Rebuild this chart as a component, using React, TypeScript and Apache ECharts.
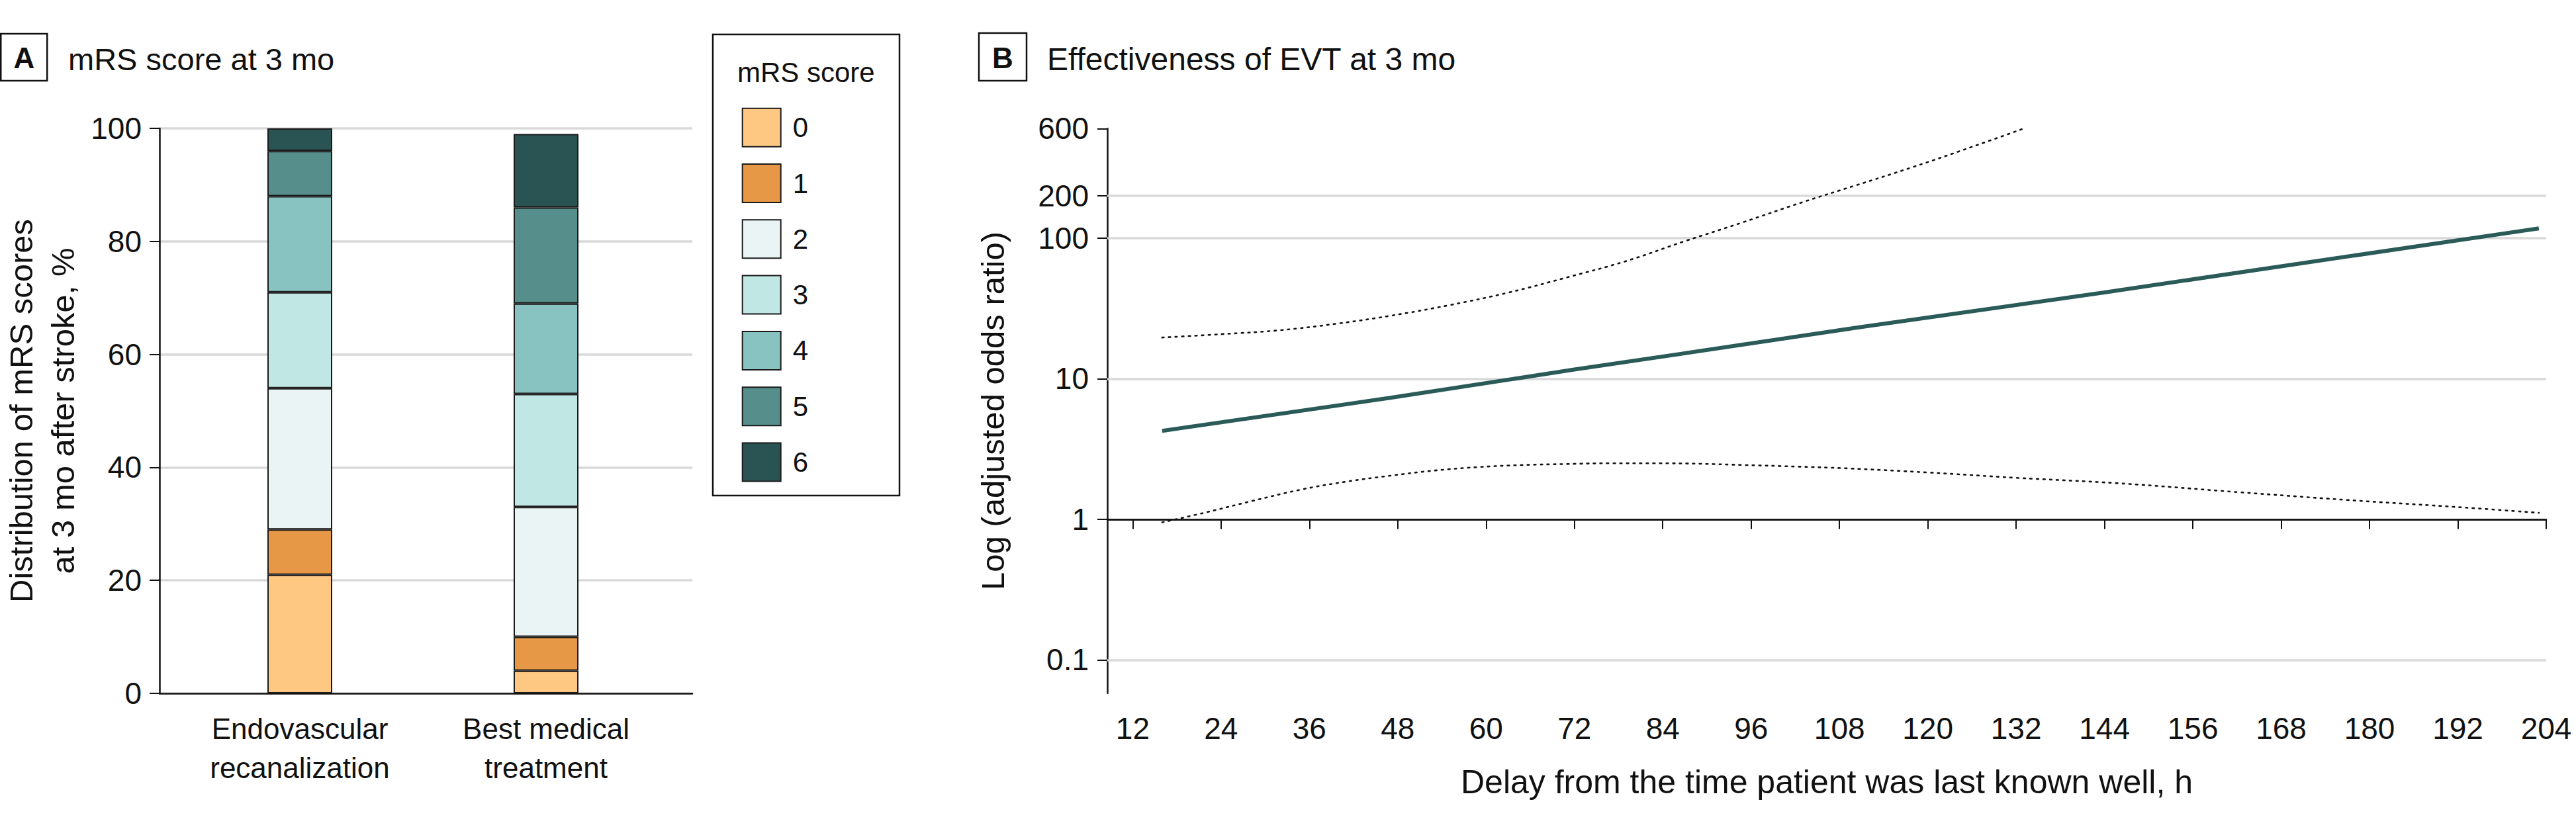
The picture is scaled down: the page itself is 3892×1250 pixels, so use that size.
import React, { useEffect, useRef } from "react";
import * as echarts from "echarts";

const FONT = '"Liberation Sans", Arial, sans-serif';
const INK = "#111111";

// ---------- Panel A data ----------
const categories = ["Endovascular\nrecanalization", "Best medical\ntreatment"];
const mrsScores = ["0", "1", "2", "3", "4", "5", "6"];
const evtDistribution = [21, 8, 25, 17, 17, 8, 4];
const bmtDistribution = [4, 6, 23, 20, 16, 17, 13];
const mrsColors = ["#FEC883", "#E79846", "#EAF4F4", "#C1E7E5", "#88C3C1", "#568E8B", "#2A5453"];

// ---------- Panel B data ----------
const delayTicks = [12, 24, 36, 48, 60, 72, 84, 96, 108, 120, 132, 144, 156, 168, 180, 192, 204];
const orTicks = [0.1, 1, 10, 100, 200, 600];
const orTickLabels = ["0.1", "1", "10", "100", "200", "600"];

const mainHours = [16, 47, 72, 96, 110, 144, 168, 203];
const mainOR = [4.25, 7.3, 11.6, 17.8, 22.9, 41, 63, 117];

const upperHours = [16, 24, 32, 40, 47, 55, 63, 71, 79, 87, 95, 103, 110, 118, 126, 133];
const upperOR = [19.6, 20.7, 22.1, 24.7, 28, 33.3, 40.9, 52.5, 68.5, 95, 130, 180, 235, 320, 445, 600];

const lowerHours = [16, 22, 28, 35, 41, 47, 53, 59, 65, 71, 77, 83, 89, 95, 102, 109, 120, 132, 146, 162, 177, 193, 203];
const lowerOR = [0.95, 1.12, 1.34, 1.63, 1.85, 2.04, 2.22, 2.35, 2.43, 2.47, 2.5, 2.5, 2.48, 2.43, 2.37, 2.3, 2.15, 1.97, 1.8, 1.56, 1.37, 1.21, 1.11];

const toLogPairs = (xs: number[], ys: number[]) => xs.map((x, i) => [x, Math.log10(ys[i])]);

export default function App() {
  const ref = useRef<HTMLDivElement>(null);

  useEffect(() => {
    if (!ref.current) return;
    const chart = echarts.init(ref.current, undefined, { renderer: "svg" });

    const axisLineStyle = { color: INK, width: 2.5 };
    const tickLineStyle = { color: INK, width: 2 };

    const barSeries = mrsScores.map((s, k) => ({
      name: s,
      type: "bar",
      xAxisIndex: 1,
      yAxisIndex: 1,
      stack: "mrs",
      barWidth: 98,
      data: [evtDistribution[k], bmtDistribution[k]],
      itemStyle: { color: mrsColors[k], borderColor: "#1a1a1a", borderWidth: 2 },
    }));

    const gridLineData = orTicks.map((v) => ({
      yAxis: Math.log10(v),
      lineStyle:
        v === 1
          ? { color: INK, width: 2.5, type: "solid" }
          : { color: "#d9d9d9", width: 3.5, type: "solid" },
    }));

    const option: any = {
      animation: false,
      backgroundColor: "#ffffff",
      textStyle: { fontFamily: FONT, color: INK },
      grid: [
        { left: 241, right: 3892 - 1046, top: 194, bottom: 1250 - 1048 },
        { left: 267, right: 3892 - 1011, top: 194, bottom: 1250 - 1048 },
        { left: 1673, right: 3892 - 3847, top: 194.4, bottom: 1250 - 1047.8 },
      ],
      xAxis: [
        {
          gridIndex: 0,
          type: "value",
          min: 0,
          max: 1,
          axisLine: { show: true, lineStyle: axisLineStyle },
          axisTick: { show: false },
          axisLabel: { show: false },
          splitLine: { show: false },
        },
        {
          gridIndex: 1,
          type: "category",
          data: categories,
          axisLine: { show: false },
          axisTick: { show: false },
          splitLine: { show: false },
          axisLabel: {
            interval: 0,
            fontSize: 44,
            lineHeight: 59,
            margin: 24,
            color: INK,
            fontFamily: FONT,
          },
        },
        {
          gridIndex: 2,
          type: "value",
          min: 8.55,
          max: 204,
          axisLine: { show: true, lineStyle: axisLineStyle },
          axisTick: { show: true, customValues: delayTicks, length: 15, lineStyle: tickLineStyle },
          axisLabel: { customValues: delayTicks, fontSize: 46, margin: 30, color: INK, fontFamily: FONT },
          splitLine: { show: false },
        },
      ],
      yAxis: [
        {
          gridIndex: 0,
          type: "value",
          min: 0,
          max: 100,
          interval: 20,
          axisLine: { show: true, lineStyle: axisLineStyle },
          axisTick: { show: true, length: 15, lineStyle: tickLineStyle },
          axisLabel: { fontSize: 46, margin: 27, color: INK, fontFamily: FONT },
          splitLine: { show: true, lineStyle: { color: "#d9d9d9", width: 3.5 } },
        },
        {
          gridIndex: 1,
          type: "value",
          min: 0,
          max: 100,
          show: false,
          splitLine: { show: false },
        },
        {
          gridIndex: 2,
          type: "value",
          min: -1.2376,
          max: Math.log10(600),
          axisLine: { show: true, lineStyle: axisLineStyle },
          axisTick: { show: true, customValues: orTicks.map((v) => Math.log10(v)), length: 15, lineStyle: tickLineStyle },
          axisLabel: {
            customValues: orTicks.map((v) => Math.log10(v)),
            fontSize: 46,
            margin: 28,
            color: INK,
            fontFamily: FONT,
            formatter: (val: number) => {
              let best = 0;
              orTicks.forEach((t, i) => {
                if (Math.abs(Math.log10(t) - val) < Math.abs(Math.log10(orTicks[best]) - val)) best = i;
              });
              return orTickLabels[best];
            },
          },
          splitLine: { show: false },
        },
      ],
      legend: {
        left: 1115.7,
        top: 157.7,
        orient: "vertical",
        itemWidth: 58,
        itemHeight: 58,
        itemGap: 24.3,
        icon: "rect",
        selectedMode: false,
        data: mrsScores,
        itemStyle: { borderColor: "#1a1a1a", borderWidth: 2 },
        textStyle: { fontSize: 42, color: INK, fontFamily: FONT, padding: [0, 0, 0, 13] },
      },
      series: [
        ...barSeries,
        {
          name: "Lower 95% CI",
          type: "line",
          xAxisIndex: 2,
          yAxisIndex: 2,
          data: toLogPairs(lowerHours, lowerOR),
          smooth: 0.4,
          showSymbol: false,
          symbol: "none",
          lineStyle: { color: INK, width: 2.6, type: [2.6, 7.4], cap: "round" },
          markLine: {
            silent: true,
            symbol: "none",
            z: 1,
            label: { show: false },
            data: gridLineData,
          },
        },
        {
          name: "Upper 95% CI",
          type: "line",
          xAxisIndex: 2,
          yAxisIndex: 2,
          data: toLogPairs(upperHours, upperOR),
          smooth: 0.4,
          showSymbol: false,
          symbol: "none",
          lineStyle: { color: INK, width: 2.6, type: [2.6, 7.4], cap: "round" },
        },
        {
          name: "Adjusted odds ratio",
          type: "line",
          xAxisIndex: 2,
          yAxisIndex: 2,
          data: toLogPairs(mainHours, mainOR),
          showSymbol: false,
          symbol: "none",
          lineStyle: { color: "#2B5B58", width: 6 },
          z: 3,
        },
      ],
      graphic: [
        // Panel A label and title
        { type: "rect", shape: { x: 1.25, y: 51, width: 70, height: 71 }, style: { fill: "none", stroke: INK, lineWidth: 2.5 } },
        { type: "text", x: 36.5, y: 87, style: { text: "A", fontSize: 44, fontWeight: "bold", fontFamily: FONT, fill: INK, align: "center", verticalAlign: "middle" } },
        { type: "text", x: 103, y: 89, style: { text: "mRS score at 3 mo", fontSize: 47, fontFamily: FONT, fill: INK, align: "left", verticalAlign: "middle" } },
        // Panel A y-axis title
        {
          type: "text",
          x: 63,
          y: 621,
          rotation: Math.PI / 2,
          style: {
            text: "Distribution of mRS scores\nat 3 mo after stroke, %",
            fontSize: 49,
            lineHeight: 63,
            fontFamily: FONT,
            fill: INK,
            align: "center",
            verticalAlign: "middle",
          },
        },
        // Legend box and title
        { type: "rect", shape: { x: 1077, y: 52, width: 282, height: 697 }, style: { fill: "none", stroke: INK, lineWidth: 2.5 } },
        { type: "text", x: 1114, y: 109, style: { text: "mRS score", fontSize: 42, fontFamily: FONT, fill: INK, align: "left", verticalAlign: "middle" } },
        // Panel B label and title
        { type: "rect", shape: { x: 1479, y: 50, width: 72, height: 72 }, style: { fill: "none", stroke: INK, lineWidth: 2.5 } },
        { type: "text", x: 1515, y: 87, style: { text: "B", fontSize: 44, fontWeight: "bold", fontFamily: FONT, fill: INK, align: "center", verticalAlign: "middle" } },
        { type: "text", x: 1582, y: 89, style: { text: "Effectiveness of EVT at 3 mo", fontSize: 48, fontFamily: FONT, fill: INK, align: "left", verticalAlign: "middle" } },
        // Panel B axis titles
        {
          type: "text",
          x: 1500,
          y: 621,
          rotation: Math.PI / 2,
          style: { text: "Log (adjusted odds ratio)", fontSize: 49, fontFamily: FONT, fill: INK, align: "center", verticalAlign: "middle" },
        },
        {
          type: "text",
          x: 2760,
          y: 1182,
          style: { text: "Delay from the time patient was last known well, h", fontSize: 50, fontFamily: FONT, fill: INK, align: "center", verticalAlign: "middle" },
        },
      ],
    };

    chart.setOption(option);
    return () => chart.dispose();
  }, []);

  return (
    <div
      ref={ref}
      style={{ position: "absolute", left: 0, top: 0, width: 3892, height: 1250, background: "#fff" }}
    />
  );
}
